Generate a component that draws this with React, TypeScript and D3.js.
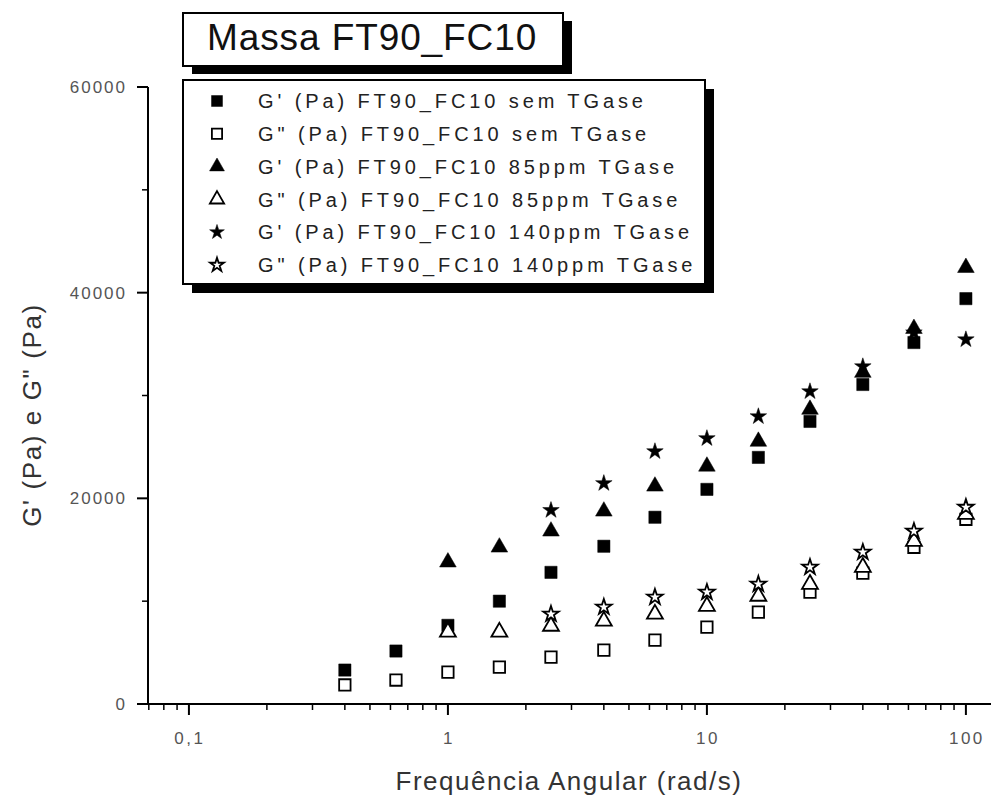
import React, { useEffect, useRef } from 'react';
import * as d3 from 'd3';

// frequências (rad/s)
const freqSem = [0.4, 0.63, 1, 1.58, 2.5, 4, 6.3, 10, 15.8, 25, 40, 63, 100];
const freq85 = [1, 1.58, 2.5, 4, 6.3, 10, 15.8, 25, 40, 63, 100];
const freq140 = [2.5, 4, 6.3, 10, 15.8, 25, 40, 63, 100];

const gpSem = [3300, 5150, 7650, 10000, 12800, 15340, 18160, 20870, 23980, 27480, 31070, 35150, 39420];
const gppSem = [1850, 2330, 3100, 3590, 4560, 5240, 6210, 7480, 8930, 10870, 12720, 15240, 17960];
const gp85 = [13790, 15240, 16800, 18740, 21170, 23110, 25530, 28640, 32230, 36500, 42430];
const gpp85 = [6990, 6990, 7570, 8060, 8740, 9510, 10490, 11650, 13300, 15830, 18450];
const gp140 = [18840, 21460, 24560, 25830, 27960, 30390, 32820, 36120, 35440];
const gpp140 = [8740, 9420, 10390, 10870, 11650, 13300, 14760, 16800, 19130];

const legendLabels = [
  "G' (Pa) FT90_FC10 sem TGase",
  'G" (Pa) FT90_FC10 sem TGase',
  "G' (Pa) FT90_FC10 85ppm TGase",
  'G" (Pa) FT90_FC10 85ppm TGase',
  "G' (Pa) FT90_FC10 140ppm TGase",
  'G" (Pa) FT90_FC10 140ppm TGase',
];

const yTicks = [0, 20000, 40000, 60000];
const yMinor = [10000, 30000, 50000];
const xTicks = [0.1, 1, 10, 100];
const xTickLabels = ['0,1', '1', '10', '100'];

const title = 'Massa FT90_FC10';
const xTitle = 'Frequência Angular (rad/s)';
const yTitle = 'G\' (Pa) e G" (Pa)';

const W = 991;
const H = 798;
const font = "'Liberation Sans', Arial, sans-serif";

export default function App() {
  const ref = useRef<SVGSVGElement>(null);

  useEffect(() => {
    document.body.style.margin = '0';
    const svg = d3.select(ref.current);
    svg.selectAll('*').remove();

    svg.append('rect').attr('width', W).attr('height', H).attr('fill', '#fff');

    const x = d3.scaleLog().domain([0.0695, 125]).range([148, 991]);
    const y = d3.scaleLinear().domain([0, 60000]).range([704, 87]);

    const series = [
      { fx: freqSem, vals: gpSem, type: d3.symbolSquare, size: 150, filled: true },
      { fx: freqSem, vals: gppSem, type: d3.symbolSquare, size: 130, filled: false },
      { fx: freq85, vals: gp85, type: d3.symbolTriangle, size: 120, filled: true },
      { fx: freq85, vals: gpp85, type: d3.symbolTriangle, size: 110, filled: false },
      { fx: freq140, vals: gp140, type: d3.symbolStar, size: 85, filled: true },
      { fx: freq140, vals: gpp140, type: d3.symbolStar, size: 75, filled: false },
    ];

    // axes
    const axes = svg.append('g').attr('stroke', '#000');
    axes.append('line').attr('x1', 148).attr('x2', 148).attr('y1', y(60000)).attr('y2', y(0)).attr('stroke-width', 2);
    axes.append('line').attr('x1', 137).attr('x2', W).attr('y1', y(0)).attr('y2', y(0)).attr('stroke-width', 2);

    axes.selectAll('.ymaj').data(yTicks).join('line')
      .attr('x1', 137).attr('x2', 148).attr('y1', d => y(d)).attr('y2', d => y(d)).attr('stroke-width', 2);
    axes.selectAll('.ymin').data(yMinor).join('line')
      .attr('class', 'ymin')
      .attr('x1', 142).attr('x2', 148).attr('y1', d => y(d)).attr('y2', d => y(d)).attr('stroke-width', 1.5);

    const [x0, x1] = x.domain();
    const minor: number[] = [];
    for (let e = -2; e <= 2; e++) {
      for (let m = 2; m <= 9; m++) {
        const v = m * Math.pow(10, e);
        if (v > x0 && v < x1) minor.push(v);
      }
    }
    axes.selectAll('.xmin').data(minor).join('line')
      .attr('class', 'xmin')
      .attr('x1', d => x(d)).attr('x2', d => x(d)).attr('y1', y(0)).attr('y2', y(0) + 6).attr('stroke-width', 1.5);
    axes.selectAll('.xmaj').data(xTicks).join('line')
      .attr('class', 'xmaj')
      .attr('x1', d => x(d)).attr('x2', d => x(d)).attr('y1', y(0)).attr('y2', y(0) + 11).attr('stroke-width', 2);

    svg.selectAll('.ylab').data(yTicks).join('text')
      .attr('class', 'ylab')
      .attr('x', 127).attr('y', d => y(d)).attr('dy', '0.35em')
      .attr('text-anchor', 'end')
      .style('font-family', font).style('font-size', '17px').style('letter-spacing', '2px')
      .attr('fill', '#555')
      .text(d => String(d));

    svg.selectAll('.xlab').data(xTicks).join('text')
      .attr('class', 'xlab')
      .attr('x', (d, i) => x(d) + 1).attr('y', 744)
      .attr('text-anchor', 'middle')
      .style('font-family', font).style('font-size', '17px').style('letter-spacing', '2.5px')
      .attr('fill', '#555')
      .text((d, i) => xTickLabels[i]);

    svg.append('text')
      .attr('x', 569).attr('y', 790).attr('text-anchor', 'middle')
      .style('font-family', font).style('font-size', '26px').style('letter-spacing', '1.5px')
      .attr('fill', '#333')
      .text(xTitle);

    svg.append('text')
      .attr('transform', 'translate(41,415) rotate(-90)').attr('text-anchor', 'middle')
      .style('font-family', font).style('font-size', '26px').style('letter-spacing', '1.6px')
      .attr('fill', '#333')
      .text(yTitle);

    // data points
    series.forEach(s => {
      const sym = d3.symbol().type(s.type).size(s.size);
      svg.append('g').selectAll('path').data(s.vals).join('path')
        .attr('transform', (d, i) => `translate(${x(s.fx[i])},${y(d)})`)
        .attr('d', sym() as string)
        .attr('fill', s.filled ? '#000' : '#fff')
        .attr('stroke', '#000')
        .attr('stroke-width', s.filled ? 0.5 : 1.8);
    });

    // title box
    const tb = svg.append('g');
    tb.append('rect').attr('x', 192).attr('y', 21).attr('width', 380).attr('height', 53).attr('fill', '#000');
    tb.append('rect').attr('x', 183).attr('y', 13).attr('width', 380).attr('height', 53)
      .attr('fill', '#fff').attr('stroke', '#000').attr('stroke-width', 2);
    tb.append('text').attr('x', 207).attr('y', 50)
      .style('font-family', font).style('font-size', '37px').style('letter-spacing', '0.9px')
      .attr('fill', '#111')
      .text(title);

    // legend
    const lg = svg.append('g');
    lg.append('rect').attr('x', 192).attr('y', 89).attr('width', 522).attr('height', 204).attr('fill', '#000');
    lg.append('rect').attr('x', 183).attr('y', 80).attr('width', 522).attr('height', 204)
      .attr('fill', '#fff').attr('stroke', '#000').attr('stroke-width', 2);
    series.forEach((s, i) => {
      const cy = 101 + i * 32.8;
      lg.append('path')
        .attr('transform', `translate(217,${cy})`)
        .attr('d', d3.symbol().type(s.type).size(s.size * 0.8)() as string)
        .attr('fill', s.filled ? '#000' : '#fff')
        .attr('stroke', '#000')
        .attr('stroke-width', s.filled ? 0.5 : 1.8);
      lg.append('text')
        .attr('x', 258).attr('y', cy).attr('dy', '0.36em')
        .style('font-family', font).style('font-size', '20px').style('letter-spacing', '3.9px')
        .attr('fill', '#222')
        .text(legendLabels[i]);
    });
  }, []);

  return <svg ref={ref} width={W} height={H} style={{ position: 'absolute', left: 0, top: 0 }} />;
}
